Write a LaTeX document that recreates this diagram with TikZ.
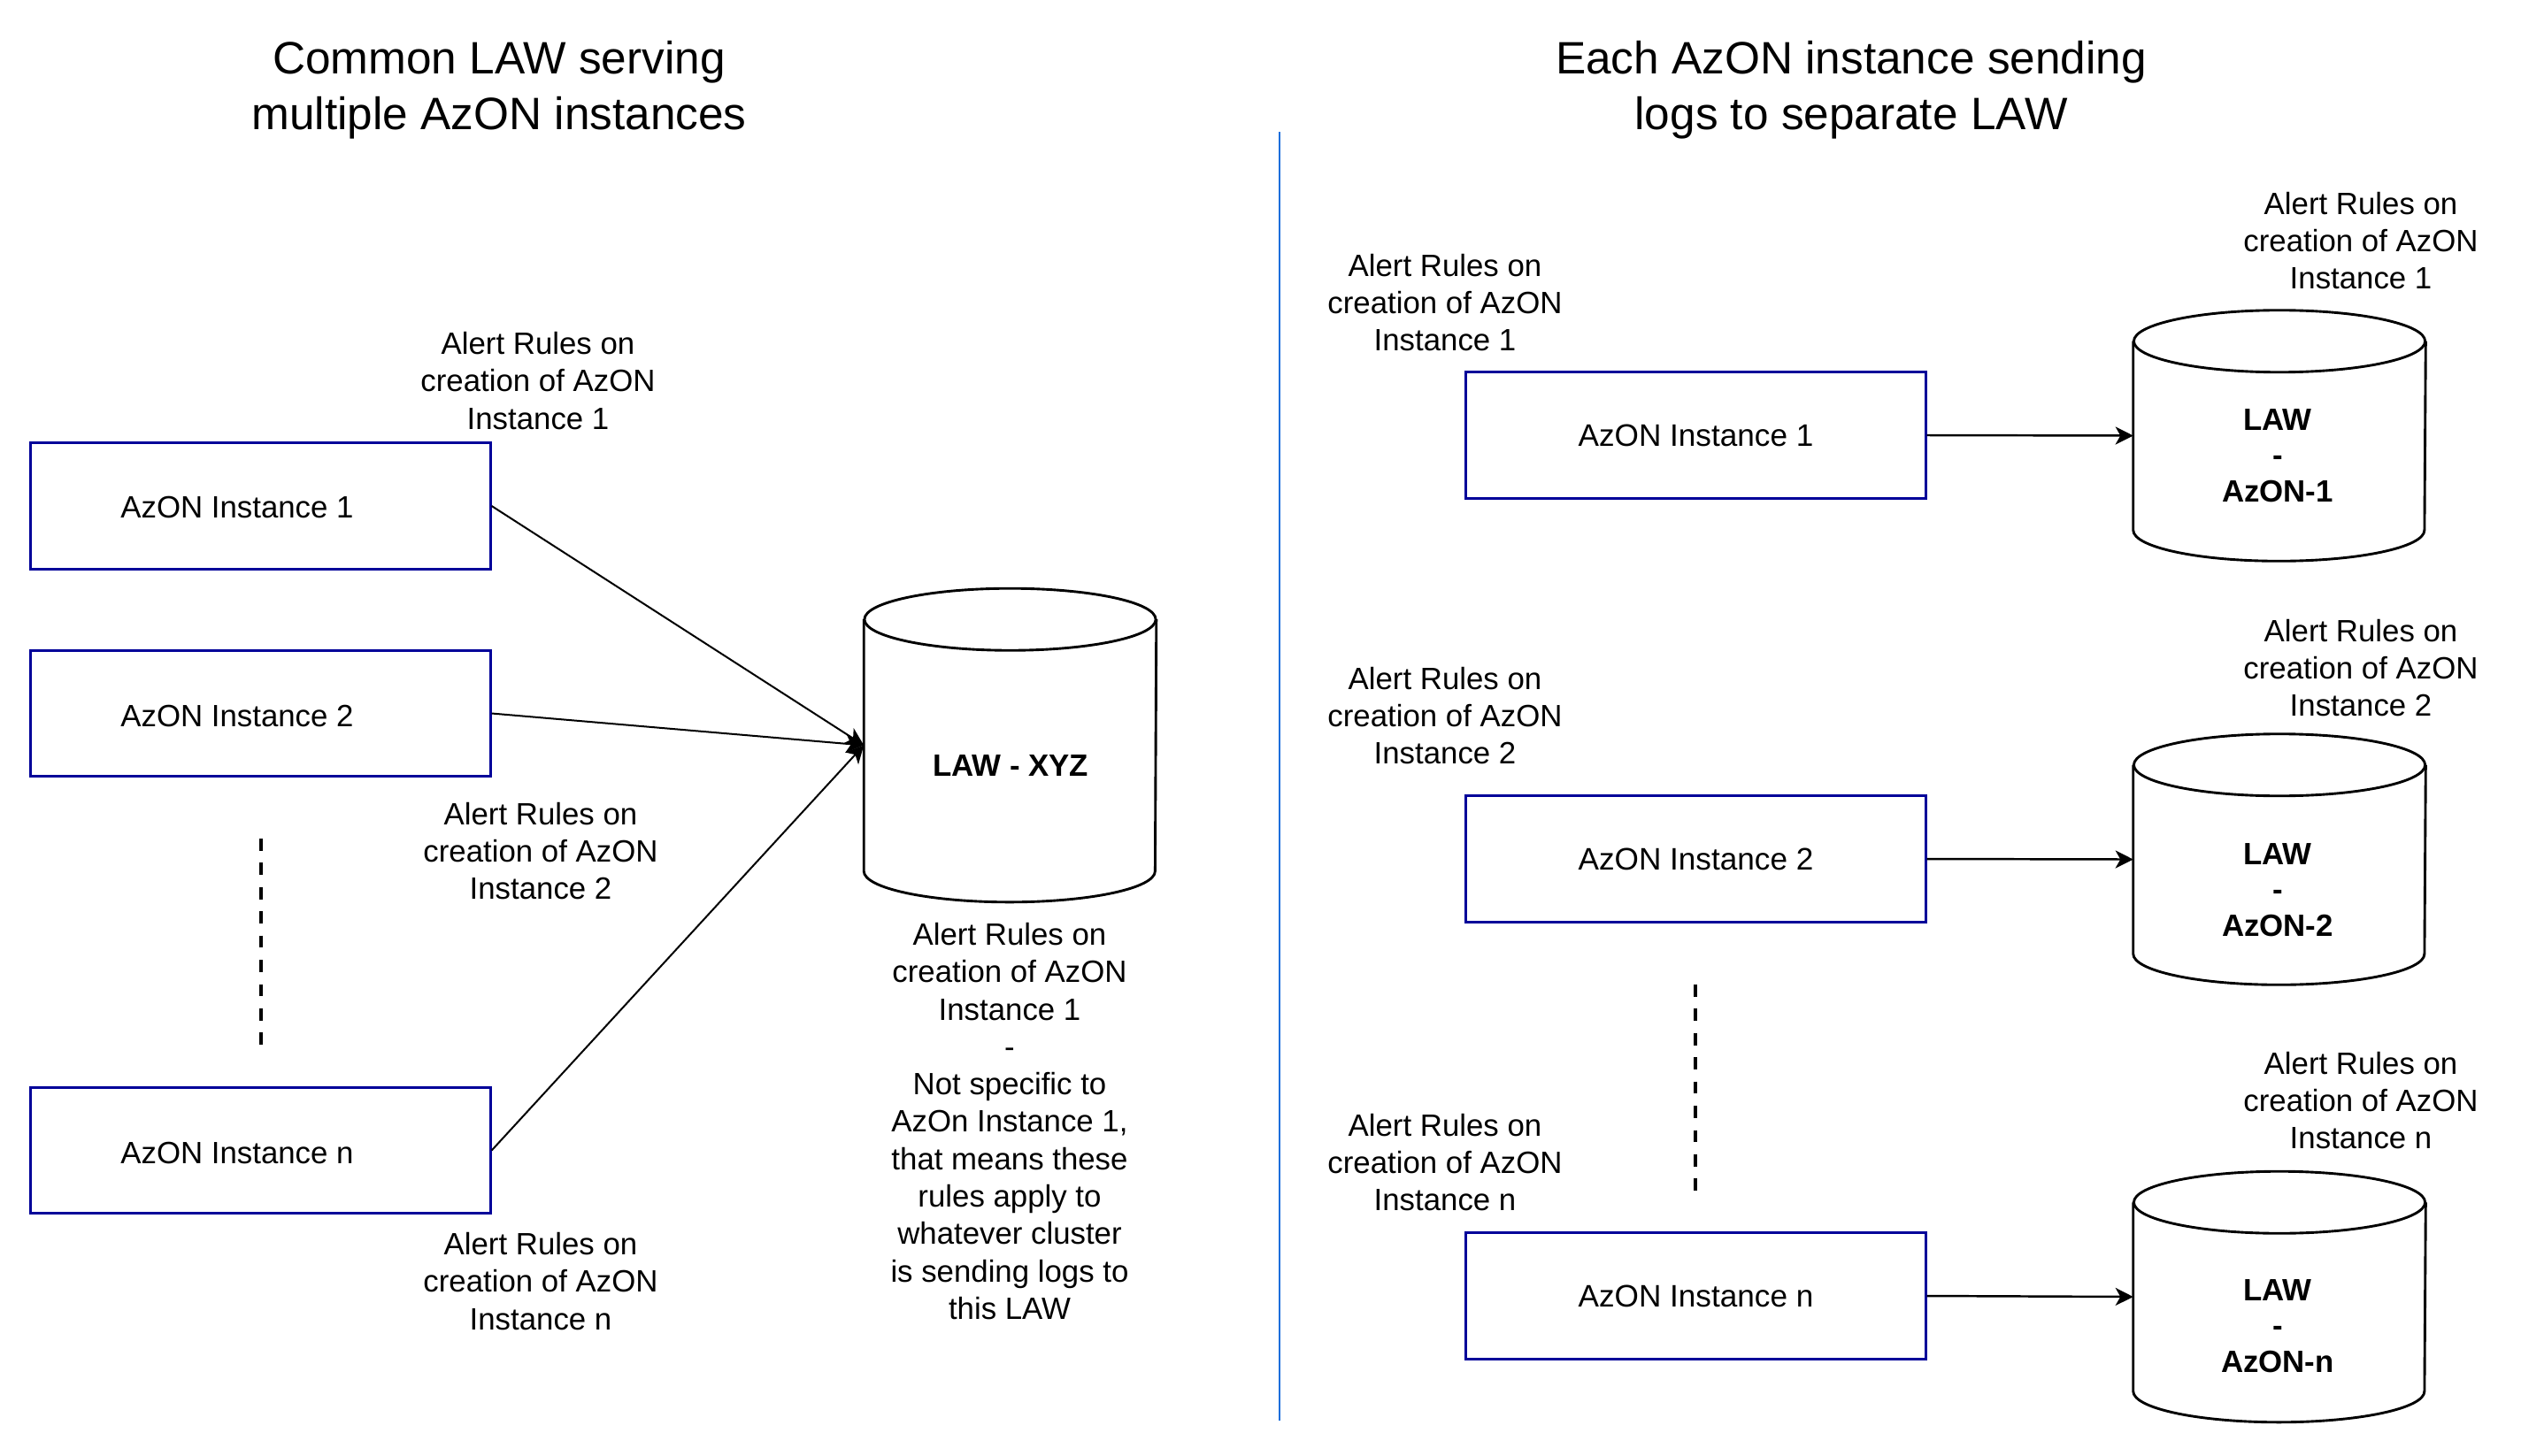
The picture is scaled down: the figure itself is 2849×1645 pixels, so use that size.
\documentclass[tikz,border=0pt]{standalone}
\usepackage{fontspec}
\setmainfont{Liberation Sans}
\usetikzlibrary{arrows.meta}
\definecolor{boxblue}{HTML}{000099}
\definecolor{divblue}{HTML}{1C6FDC}
\newcommand{\drawlawcyl}[1]{%
  \draw[cylline] ([yshift=-0.35cm]#1.north west) -- ([yshift=0.35cm]#1.south west)
     arc[start angle=180,end angle=360,x radius=1.645cm,y radius=0.35cm]
     -- ([yshift=-0.35cm]#1.north east);
  \draw[cylline] ([yshift=-0.35cm]#1.north) ellipse[x radius=1.645cm,y radius=0.35cm];}
\begin{document}
\begin{tikzpicture}[x=0.01cm,y=-0.01cm,
  lbl/.style={font=\fontsize{9.9pt}{12.03pt}\selectfont, align=center, inner sep=0},
  boldlbl/.style={font=\fontsize{9.9pt}{11.5pt}\selectfont\bfseries, align=center, inner sep=0},
  ttl/.style={font=\fontsize{14.6pt}{17.9pt}\selectfont, align=center, inner sep=0},
  azbox/.style={draw=boxblue, line width=0.85pt, minimum width=5.19cm, minimum height=1.42cm, inner sep=0},
  cylnode/.style={minimum width=3.29cm, inner sep=0},
  cylline/.style={line width=0.82pt},
  arr/.style={line width=0.57pt, -{Stealth[length=5.7pt,width=5.7pt,inset=1.6pt]}},
  arrR/.style={arr, line width=0.7pt},
  dotsline/.style={line width=1.4pt, dash pattern=on 3.9pt off 3.9pt},
  divider/.style={draw=divblue, line width=0.8pt}]
\fill[white] (0,0) rectangle (2849,1645);

% ---------- left half ----------
\node[ttl] (ttlL) at (564,102) {Common LAW serving\\multiple AzON instances};

\node[azbox] (L1) at (294.5,572) {};
\node[azbox] (L2) at (294.5,806.5) {};
\node[azbox] (Ln) at (294.5,1300.5) {};
\node[lbl] (L1t) at (268,574) {AzON Instance 1};
\node[lbl] (L2t) at (268,809) {AzON Instance 2};
\node[lbl] (Lnt) at (268,1303) {AzON Instance n};

\node[lbl] (L1a) at (608,430.5) {Alert Rules on\\creation of AzON\\Instance 1};
\node[lbl] (L2a) at (611,962) {Alert Rules on\\creation of AzON\\Instance 2};
\node[lbl] (Lna) at (611,1448.5) {Alert Rules on\\creation of AzON\\Instance n};

\coordinate (dLa) at (295,948);
\coordinate (dLb) at (295,1183);
\draw[dotsline] (dLa) -- (dLb);

\node[cylnode, minimum height=3.53cm] (law) at (1141.5,842.5) {};
\drawlawcyl{law}
\node[boldlbl] (lawt) at (1142,866) {LAW - XYZ};
\node[lbl] (lawa) at (1141,1267.5) {Alert Rules on\\creation of AzON\\Instance 1\\-\\Not specific to\\AzOn Instance 1,\\that means these\\rules apply to\\whatever cluster\\is sending logs to\\this LAW};

\draw[arr] (L1.east) -- (law.west);
\draw[arr] (L2.east) -- (law.west);
\draw[arr] (Ln.east) -- (law.west);

% ---------- divider ----------
\coordinate (dva) at (1446,149);
\coordinate (dvb) at (1446,1606);
\draw[divider] (dva) -- (dvb);

% ---------- right half ----------
\node[ttl] (ttlR) at (2092,102) {Each AzON instance sending\\logs to separate LAW};

\node[azbox] (R1) at (1916.5,492) {AzON Instance 1};
\node[azbox] (R2) at (1916.5,971) {AzON Instance 2};
\node[azbox] (Rn) at (1916.5,1465) {AzON Instance n};
\node[lbl] (R1a) at (1633,342) {Alert Rules on\\creation of AzON\\Instance 1};
\node[lbl] (R2a) at (1633,809) {Alert Rules on\\creation of AzON\\Instance 2};
\node[lbl] (Rna) at (1633,1314) {Alert Rules on\\creation of AzON\\Instance n};

\node[cylnode, minimum height=2.82cm] (C1) at (2576,492.5) {};
\node[cylnode, minimum height=2.82cm] (C2) at (2576,971.5) {};
\node[cylnode, minimum height=2.82cm] (Cn) at (2576,1466) {};
\drawlawcyl{C1}
\drawlawcyl{C2}
\drawlawcyl{Cn}
\node[boldlbl] (C1t) at (2574,515) {LAW\\-\\AzON-1};
\node[boldlbl] (C2t) at (2574,1006) {LAW\\-\\AzON-2};
\node[boldlbl] (Cnt) at (2574,1499) {LAW\\-\\AzON-n};

\node[lbl] (C1a) at (2668,272) {Alert Rules on\\creation of AzON\\Instance 1};
\node[lbl] (C2a) at (2668,755) {Alert Rules on\\creation of AzON\\Instance 2};
\node[lbl] (Cna) at (2668,1244) {Alert Rules on\\creation of AzON\\Instance n};

\coordinate (dRa) at (1916,1113);
\coordinate (dRb) at (1916,1348);
\draw[dotsline] (dRa) -- (dRb);

\draw[arrR] (R1.east) -- (C1.west);
\draw[arrR] (R2.east) -- (C2.west);
\draw[arrR] (Rn.east) -- (Cn.west);
\end{tikzpicture}
\end{document}
